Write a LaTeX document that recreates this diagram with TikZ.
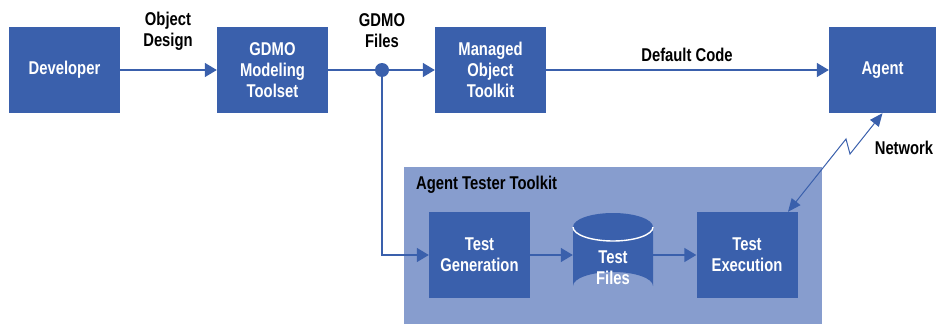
\documentclass[tikz,border=0pt]{standalone}
\usepackage{fontspec}
\setmainfont[FakeStretch=0.8]{Liberation Sans}
\usetikzlibrary{arrows.meta}
\definecolor{boxblue}{RGB}{58,96,172}
\definecolor{panelblue}{RGB}{135,157,206}
\tikzset{
  lbl/.style={font=\fontsize{18.5}{21}\selectfont\bfseries, align=center, inner sep=0},
  blk/.style={lbl, fill=boxblue, text=white, minimum width=111pt, minimum height=86pt},
  sblk/.style={lbl, fill=boxblue, text=white, minimum width=101pt, minimum height=86pt},
  flow/.style={draw=boxblue, line width=1.4pt, -{Triangle[length=12pt,width=14pt]}},
  net/.style={draw=boxblue, line width=1pt, {Triangle[length=13pt,width=11pt]}-{Triangle[length=13pt,width=11pt]}}
}
\begin{document}
\begin{tikzpicture}[x=1pt,y=-1pt]
\useasboundingbox (0,0) rectangle (937,324);
% tester panel
\fill[panelblue] (404,167) rectangle (822,324);
\node[lbl, anchor=west] (att) at (416,185) {Agent Tester Toolkit};
% top row
\node[blk] (dev) at (64.5,70) {Developer};
\node[blk] (gdmo) at (272.5,70) {GDMO\\Modeling\\Toolset};
\node[blk] (mot) at (490.5,70) {Managed\\Object\\Toolkit};
\node[blk, minimum width=107pt] (agent) at (882.5,70) {Agent};
% bottom row
\node[sblk] (gen) at (479.5,255) {Test\\Generation};
\node[sblk] (exec) at (747,255) {Test\\Execution};
% test files cylinder
\fill[boxblue] (573,227) -- (573,286) arc[start angle=180, end angle=360, x radius=40, y radius=14]
  -- (653,227) arc[start angle=0, end angle=-180, x radius=40, y radius=14] -- cycle;
\draw[white, line width=1.4pt] (573,227) arc[start angle=180, end angle=0, x radius=40, y radius=14];
\node[lbl, text=white, minimum width=80pt, minimum height=87pt] (files) at (613,256.5) {};
\node[lbl, text=white] (filestxt) at (613,268) {Test\\Files};
% junction
\coordinate (j) at (382,70);
\coordinate (jd) at (382,255);
% connectors
\draw[flow] (dev) -- (gdmo);
\draw[flow] (gdmo) -- (mot);
\draw[flow] (mot) -- (agent);
\draw[flow] (j) -- (jd) -- (gen);
\draw[flow] (gen.east) -- (files.west |- gen.east);
\draw[flow] (files.east |- exec.west) -- (exec.west);
\fill[boxblue] (j) circle[radius=7];
% network link
\coordinate (z1) at (846,139);
\coordinate (z2) at (850,154);
\draw[net] (exec.north |- exec.north) ++(41,0) coordinate (en) (en) -- (z1) -- (z2) -- (agent.south);
% labels
\node[lbl] (od) at (168,31) {Object\\Design};
\node[lbl] (gf) at (382,31) {GDMO\\Files};
\node[lbl] (dc) at (687,55) {Default Code};
\node[lbl] (nw) at (904,148) {Network};
\end{tikzpicture}
\end{document}
